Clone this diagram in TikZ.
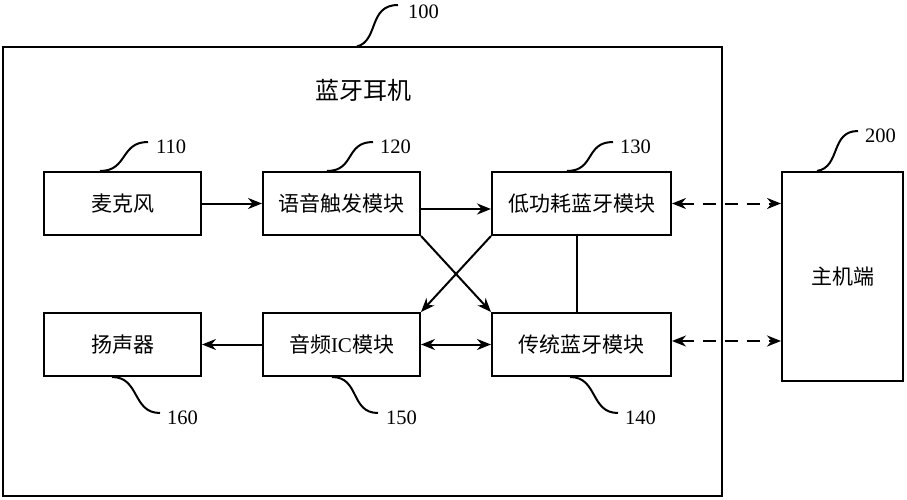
\documentclass[tikz,border=0pt]{standalone}
\usepackage{fontspec}
\setmainfont{Liberation Serif}
\newfontfamily\cjk{Noto Sans CJK SC}
\usetikzlibrary{arrows.meta}
\tikzset{
  box/.style={draw, line width=2pt, inner sep=0pt, font=\cjk\fontsize{21pt}{24pt}\selectfont},
  num/.style={inner sep=0pt, anchor=west, font=\fontsize{20.5pt}{24pt}\selectfont},
  lead/.style={line width=2pt},
  conn/.style={line width=2pt, -{Stealth[length=14pt,width=11pt]}},
  bconn/.style={line width=2pt, {Stealth[length=14pt,width=11pt]}-{Stealth[length=14pt,width=11pt]}},
  dconn/.style={bconn, dash pattern=on 13pt off 9pt},
}
\begin{document}
\begin{tikzpicture}[x=1pt,y=-1pt]
\useasboundingbox (0,0) rectangle (907,500);
\node[draw, line width=2pt, minimum width=719pt, minimum height=448pt, inner sep=0pt] (outer) at (362.5,271.5) {};
\node[inner sep=0pt, font=\cjk\fontsize{24pt}{26pt}\selectfont] (title) at (363,90) {蓝牙耳机};

\node[box, minimum width=157pt, minimum height=63pt] (mic) at (122.5,203.5) {麦克风};
\node[box, minimum width=157pt, minimum height=63pt] (vt) at (341.5,203.5) {语音触发模块};
\node[box, minimum width=179pt, minimum height=63pt] (ble) at (581.5,203.5) {低功耗蓝牙模块};
\node[box, minimum width=179pt, minimum height=63pt] (bt) at (581.5,344.5) {传统蓝牙模块};
\node[box, minimum width=157pt, minimum height=63pt] (spk) at (122.5,344.5) {扬声器};
\node[box, minimum width=157pt, minimum height=63pt] (aic) at (341.5,344.5) {{\cjk 音频}{\rmfamily IC}{\cjk 模块}};
\node[box, minimum width=121pt, minimum height=209pt] (host) at (842.5,276.5) {主机端};

% connectors
\draw[conn] (mic.east) -- (vt.west);
\draw[conn] ([yshift=-5.5pt]vt.east) -- ([yshift=-5.5pt]ble.west);
\draw[dconn] (ble.east) -- (ble.east -| host.west);
\draw[dconn] ([yshift=3.5pt]bt.east) -- ([yshift=3.5pt]bt.east -| host.west);
\draw[bconn] (aic.east) -- (bt.west);
\draw[conn] (aic.west) -- (spk.east);
\draw[conn] (vt.south east) -- (bt.north west);
\draw[conn] (ble.south west) -- (aic.north east);
\draw[lead] ([xshift=-4.5pt]ble.south) -- ([xshift=-4.5pt]bt.north);

% reference labels
\coordinate (e100) at (398,5);
\node[num] (n100) at (408,12) {100};
\draw[lead] ([xshift=-5.5pt]outer.north) .. controls +(22,-6) and +(-30,0) .. (e100);

\coordinate (e110) at (148,142);
\node[num] (n110) at (156,147) {110};
\draw[lead] ([xshift=-22.5pt]mic.north) .. controls +(28,0) and +(-28,0) .. (e110);

\coordinate (e120) at (373,142);
\node[num] (n120) at (380,147) {120};
\draw[lead] ([xshift=-14.5pt]vt.north) .. controls +(28,0) and +(-28,0) .. (e120);

\coordinate (e130) at (613,142);
\node[num] (n130) at (620,147) {130};
\draw[lead] ([xshift=-14.5pt]ble.north) .. controls +(28,0) and +(-28,0) .. (e130);

\coordinate (e200) at (858,131);
\node[num] (n200) at (865,136) {200};
\draw[lead] ([xshift=-25.5pt]host.north) .. controls +(24,-4) and +(-28,0) .. (e200);

\coordinate (e140) at (618,413);
\node[num] (n140) at (625,418) {140};
\draw[lead] ([xshift=-11.5pt]bt.south) .. controls +(28,0) and +(-28,0) .. (e140);

\coordinate (e150) at (378,413);
\node[num] (n150) at (386,418) {150};
\draw[lead] ([xshift=-9.5pt]aic.south) .. controls +(28,0) and +(-28,0) .. (e150);

\coordinate (e160) at (160,413);
\node[num] (n160) at (167,418) {160};
\draw[lead] ([xshift=-10.5pt]spk.south) .. controls +(28,0) and +(-28,0) .. (e160);
\end{tikzpicture}
\end{document}
